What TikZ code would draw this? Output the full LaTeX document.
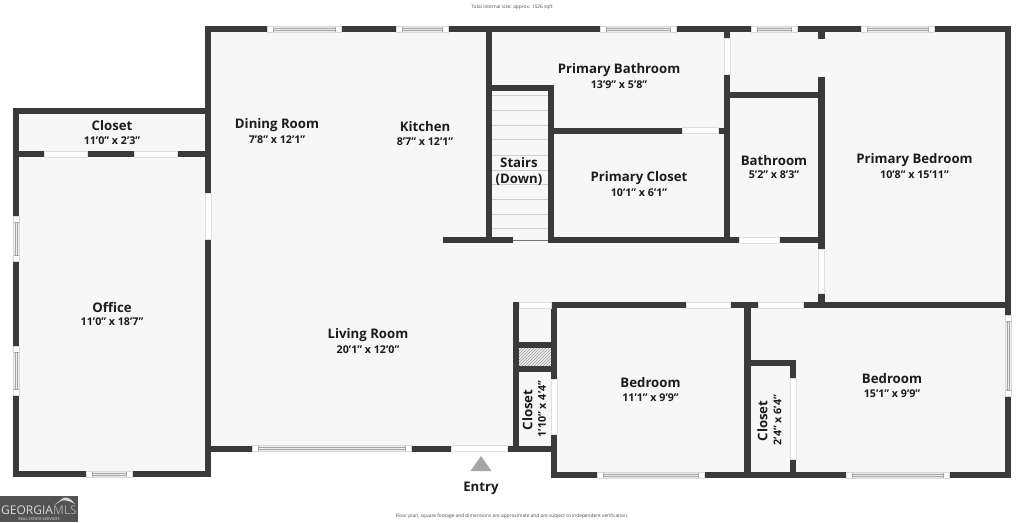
\documentclass[tikz,border=0pt]{standalone}
\usepackage{fontspec}
\setmainfont{Open Sans}
\usetikzlibrary{patterns}
\definecolor{wallc}{HTML}{3A3A3A}
\definecolor{floorc}{HTML}{F7F7F7}
\definecolor{txtc}{HTML}{1C1C1C}
\definecolor{winc}{HTML}{A8A8A8}
\definecolor{treadc}{HTML}{CFCFCF}
\tikzset{
  wallbox/.style={fill=wallc,draw=none},
  roomname/.style={font=\fontsize{13.2}{15}\selectfont\bfseries,text=txtc,inner sep=0pt,yshift=-1pt},
  roomdim/.style={font=\fontsize{10.7}{12}\selectfont\bfseries,text=txtc,inner sep=0pt,yshift=-0.5pt},
  tinytext/.style={font=\fontsize{4.8}{5}\selectfont,text=black!70,inner sep=0pt},
  tread/.style={draw=treadc,line width=0.9pt},
  winline/.style={draw=winc,line width=0.5pt},
  doorbox/.style={fill=white,draw=black!12,line width=0.3pt},
}
\newcommand{\wl}[4]{\path[wallbox] (#1,#2) rectangle (#3,#4);}
\newcommand{\dr}[4]{\path[doorbox] (#1,#2) rectangle (#3,#4);}
% horizontal window x1 x2 y1 y2
\newcommand{\hw}[4]{%
  \path[fill=white] (#1,#3) rectangle (#2,#4);
  \path[fill=black!8,winline] ({#1+6},#3) rectangle ({#2-6},#4);
  \draw[winline] ({#1+6},{(#3+#4)/2-1}) -- ({#2-6},{(#3+#4)/2-1});
  \draw[winline] ({#1+6},{(#3+#4)/2+1}) -- ({#2-6},{(#3+#4)/2+1});
  \draw[draw=black!15,line width=0.3pt] (#1,#3) rectangle (#2,#4);}
% vertical window y1 y2 x1 x2
\newcommand{\vw}[4]{%
  \path[fill=white] (#3,#1) rectangle (#4,#2);
  \path[fill=black!8,winline] (#3,{#1+6}) rectangle (#4,{#2-6});
  \draw[winline] ({(#3+#4)/2-1},{#1+6}) -- ({(#3+#4)/2-1},{#2-6});
  \draw[winline] ({(#3+#4)/2+1},{#1+6}) -- ({(#3+#4)/2+1},{#2-6});
  \draw[draw=black!15,line width=0.3pt] (#3,#1) rectangle (#4,#2);}
\begin{document}
\begin{tikzpicture}[x=1pt,y=-1pt]
\useasboundingbox (0,0) rectangle (1024,522);
\fill[white] (0,0) rectangle (1024,522);
% floor
\fill[floorc] (13,108) -- (205,108) -- (205,26) -- (1011,26) -- (1011,478) -- (551,478) -- (551,451) -- (205,451) -- (205,477) -- (13,477) -- cycle;
% stair treads
\foreach \ty in {95,110,125,139.5,155,170,184.5,199,214,228.5} \draw[tread] (492,\ty) -- (548,\ty);
\draw[draw=black!55,line width=0.8pt] (513,240) -- (548,240);
% hatch
\fill[black!6] (519,348) rectangle (551,366);
\path[pattern=north east lines,pattern color=black!40] (519,348) rectangle (551,366);
% walls: office and closet
\wl{13}{107.5}{211}{113.5}
\wl{13}{107.5}{19}{216}
\wl{13}{261}{19}{346}
\wl{13}{395}{19}{477}
\wl{13}{471}{211}{477}
\wl{19}{151}{44}{157}
\wl{87}{151}{134}{157}
\wl{177}{151}{205}{157}
\wl{205}{26}{211}{193}
\wl{205}{239}{211}{477}
% main top wall
\wl{205}{26}{1011}{32}
\wl{1005}{26}{1011}{315}
\wl{1005}{396}{1011}{478}
% main bottom
\wl{205}{445.5}{252}{451.5}
\wl{411}{445.5}{451}{451.5}
\wl{507}{445.5}{557}{451.5}
% kitchen / stairs
\wl{486}{26}{492}{243}
\wl{486}{85}{554}{91}
\wl{548}{85}{554}{243}
\wl{443}{237}{513}{243}
\wl{548}{237}{739}{243}
\wl{779}{237}{824}{243}
% primary closet & bath
\wl{554}{127.5}{682}{133.5}
\wl{718}{127.5}{730}{133.5}
\wl{724}{26}{730}{38}
\wl{724}{74}{730}{243}
\wl{730}{92}{818}{98}
% primary bedroom left
\wl{818}{26}{824.5}{39}
\wl{818}{77}{824.5}{249}
\wl{818}{293}{824.5}{308}
% closet column
\wl{513}{302}{519}{451}
\wl{551}{302}{557}{379}
\wl{551}{434}{557}{478}
\wl{519}{342}{551}{348}
\wl{519}{366}{551}{372}
% bedrooms
\wl{551}{302}{686}{308}
\wl{730}{302}{758}{308}
\wl{803}{302}{1011}{308}
\wl{744}{302}{750.5}{478}
\wl{551}{472}{597}{478}
\wl{704}{472}{846}{478}
\wl{949}{472}{1011}{478}
\wl{750}{360}{796}{366}
\wl{790}{360}{796}{378}
\wl{790}{459}{796}{478}
% doors
\dr{44}{151}{87}{157}
\dr{134}{151}{177}{157}
\dr{205}{193}{211}{239}
\dr{451}{445.5}{507}{451.5}
\dr{519}{302}{551}{308}
\dr{551}{379}{557}{434}
\dr{686}{302}{730}{308}
\dr{758}{302}{803}{308}
\dr{790}{378}{796}{459}
\dr{818}{249}{824.5}{293}
\dr{739}{237}{779}{243}
\dr{682}{127.5}{718}{133.5}
\dr{724}{38}{730}{74}
% windows
\hw{267}{341}{26}{32}
\hw{396}{448}{26}{32}
\hw{600}{676}{26}{32}
\hw{751}{797}{26}{32}
\hw{861}{934}{26}{32}
\hw{252}{411}{445.5}{451.5}
\hw{86}{132}{471}{477}
\hw{597}{704}{472}{478}
\hw{846}{949}{472}{478}
\vw{216}{261}{13}{19}
\vw{346}{395}{13}{19}
\vw{315}{396}{1005}{1011}
% entry triangle
\fill[black!35] (481,456) -- (491.5,471) -- (470.5,471) -- cycle;
% labels
\node[roomname] (n1) at (112,125) {Closet};
\node[roomdim] (d1) at (112,140) {11'0" x 2'3"};
\node[roomname] (n2) at (277,124.5) {Dining Room};
\node[roomdim] (d2) at (277,139.5) {7'8" x 12'1"};
\node[roomname] (n3) at (425,126) {Kitchen};
\node[roomdim] (d3) at (425,141) {8'7" x 12'1"};
\node[roomname] (n4) at (519,162) {Stairs};
\node[roomname] (n4b) at (519,179) {(Down)};
\node[roomname] (n5) at (619,69) {Primary Bathroom};
\node[roomdim] (d5) at (619,84) {13'9" x 5'8"};
\node[roomname] (n6) at (639,177) {Primary Closet};
\node[roomdim] (d6) at (639,192) {10'1" x 6'1"};
\node[roomname] (n7) at (774,159.5) {Bathroom};
\node[roomdim] (d7) at (774,174.5) {5'2" x 8'3"};
\node[roomname] (n8) at (914.5,159) {Primary Bedroom};
\node[roomdim] (d8) at (914.5,174) {10'8" x 15'11"};
\node[roomname] (n9) at (112,306.5) {Office};
\node[roomdim] (d9) at (112,321.5) {11'0" x 18'7"};
\node[roomname] (n10) at (368,334) {Living Room};
\node[roomdim] (d10) at (368,349) {20'1" x 12'0"};
\node[roomname] (n11) at (650.5,382) {Bedroom};
\node[roomdim] (d11) at (650.5,397) {11'1" x 9'9"};
\node[roomname] (n12) at (892,378) {Bedroom};
\node[roomdim] (d12) at (892,393) {15'1" x 9'9"};
\node[roomname,rotate=90] (n13) at (527.5,409) {Closet};
\node[roomdim,rotate=90] (d13) at (542,408.5) {1'10" x 4'4"};
\node[roomname,rotate=90] (n14) at (762.5,420) {Closet};
\node[roomdim,rotate=90] (d14) at (777.5,419.5) {2'4" x 6'4"};
\node[roomname] (n15) at (481,487.5) {Entry};
\node[tinytext] (t1) at (512,7.5) {Total internal size: approx. 1526 sqft};
\node[tinytext] (t2) at (512,516) {Floor plan, square footage and dimensions are approximate and are subject to independent verification.};
% logo
\fill[black!68] (0,496) rectangle (78,522);
\fill[white!85!black] (54,505) -- (64,497.5) .. controls (68,497) and (71,499) .. (75,504) .. controls (70,501) and (66,500) .. (62,500.5) -- cycle;
\node[inner sep=0pt,anchor=west,font=\fontsize{12}{13}\selectfont,text=white!85!black] (lg) at (1,510.5) {GEORGIA\textcolor{black!35}{MLS}};
\node[inner sep=0pt,font=\fontsize{3.8}{4}\selectfont\bfseries,text=black!30] (lg2) at (39,519) {REAL ESTATE SERVICES};
\end{tikzpicture}
\end{document}
